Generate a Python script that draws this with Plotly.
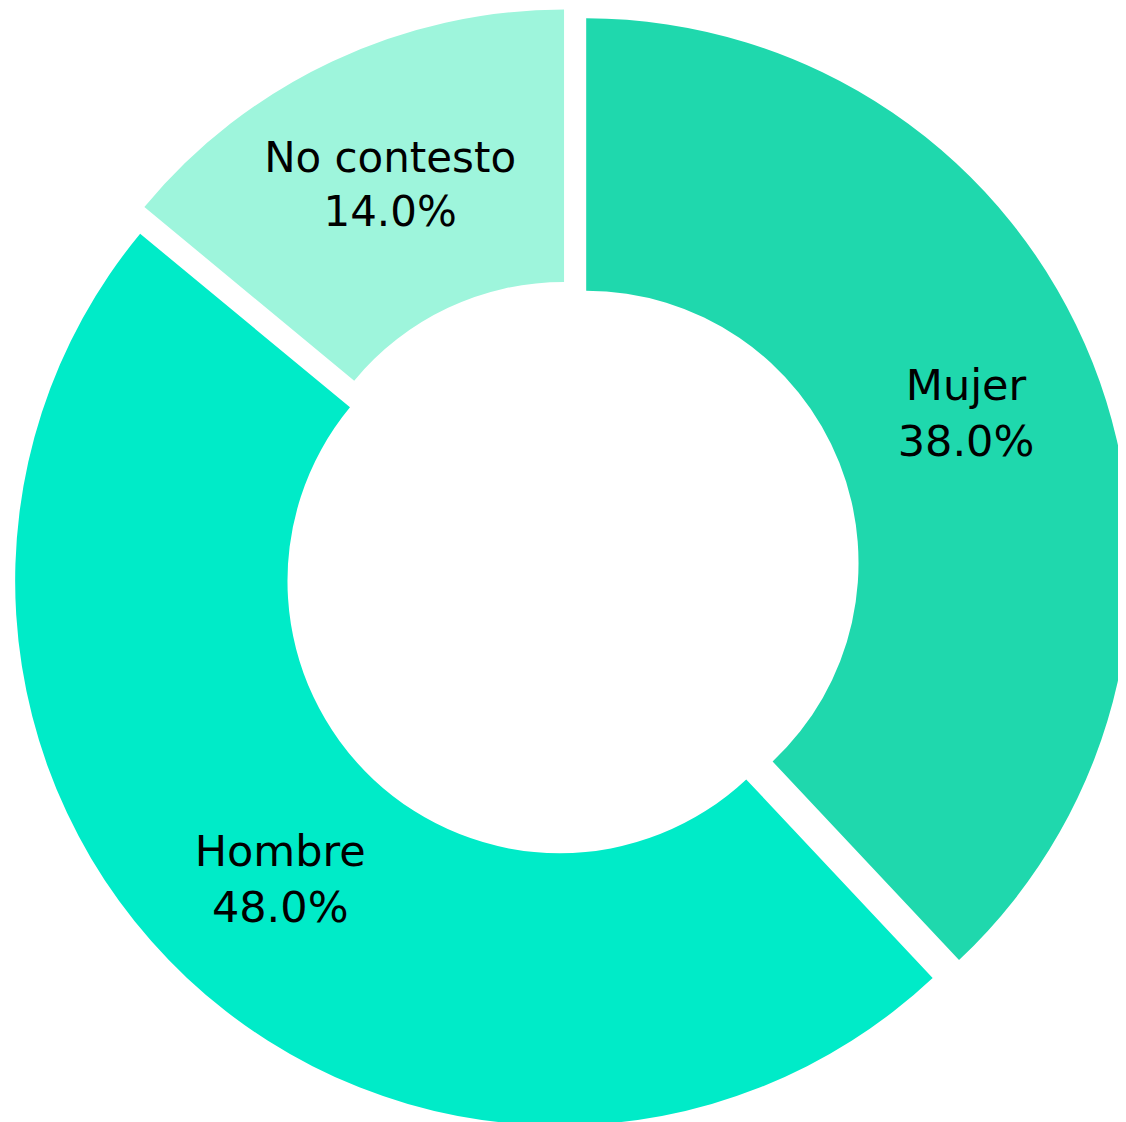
import plotly.graph_objects as go

labels = ["Mujer", "Hombre", "No contesto"]
values = [38, 48, 14]
colors = ["#1fd8ad", "#00ebc8", "#9ef5dc"]
pulls = [0.03, 0.03, 0.03]

fig = go.Figure(go.Pie(
    labels=labels,
    values=values,
    hole=0.5,
    sort=False,
    direction="clockwise",
    rotation=0,
    pull=pulls,
    marker=dict(colors=colors, line=dict(width=0)),
    texttemplate="%{label}<br>%{percent:.1%}",
    textposition="inside",
    insidetextorientation="horizontal",
    textfont=dict(family="DejaVu Sans", size=43, color="black"),
    showlegend=False,
    hoverinfo="skip",
))

fig.update_layout(
    width=1126,
    height=1122,
    margin=dict(l=0, r=0, t=0, b=0),
    paper_bgcolor="white",
    plot_bgcolor="white",
)

fig.write_html("out.html")
